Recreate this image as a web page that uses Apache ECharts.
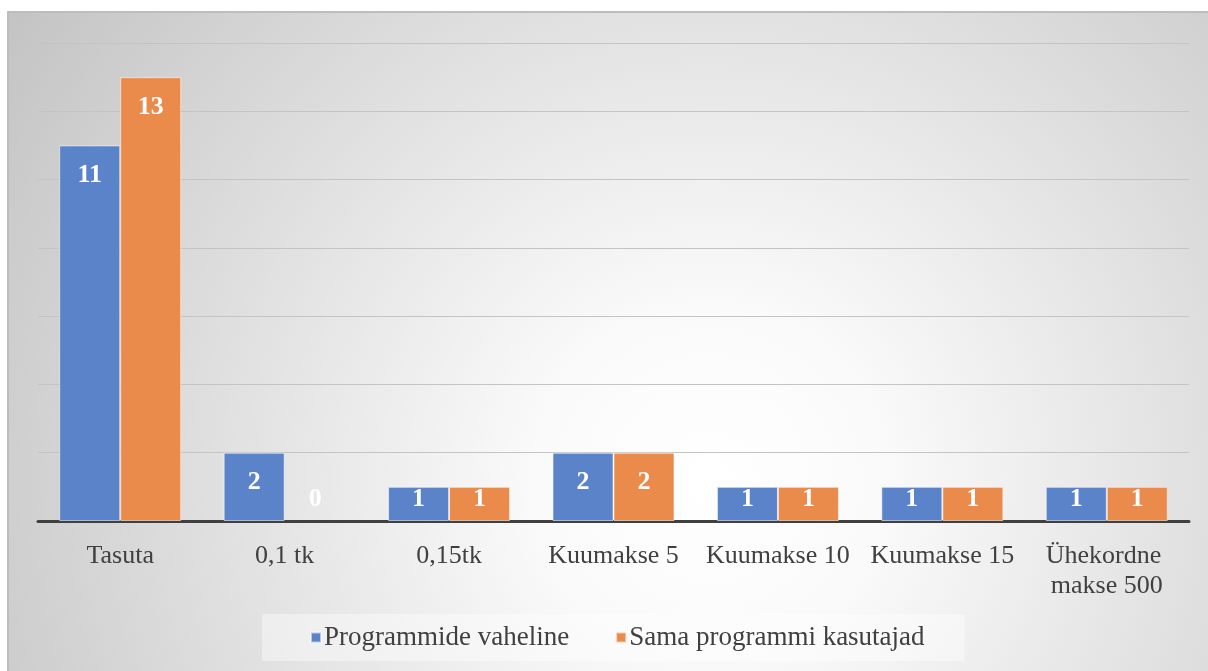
<!DOCTYPE html>
<html>
<head>
<meta charset="utf-8">
<script src="https://cdn.jsdelivr.net/npm/echarts@6/dist/echarts.min.js"></script>
<style>
html,body{margin:0;padding:0;background:#fff;}
#chart{width:1208px;height:671px;}
</style>
</head>
<body>
<div id="chart"></div>
<script>
const categories = ['Tasuta', '0,1 tk', '0,15tk', 'Kuumakse 5', 'Kuumakse 10', 'Kuumakse 15', 'Ühekordne makse 500'];
const seriesNames = ['Programmide vaheline', 'Sama programmi kasutajad'];
const programmideVaheline = [11, 2, 1, 2, 1, 1, 1];
const samaProgrammiKasutajad = [13, 0, 1, 2, 1, 1, 1];
const yTicks = [0, 2, 4, 6, 8, 10, 12, 14];

const FONT = '"Liberation Serif", "Times New Roman", serif';

function buildData(values) {
  return values.map(v => {
    const item = { value: v };
    if (v < 2) {
      item.label = { position: 'insideBottom', distance: 9 };
    }
    if (v === 0) {
      item.itemStyle = { borderWidth: 0 };
    }
    return item;
  });
}

const labelStyle = {
  show: true,
  position: 'insideTop',
  distance: 17,
  color: '#ffffff',
  fontFamily: FONT,
  fontWeight: 'bold',
  fontSize: 26
};

const chart = echarts.init(document.getElementById('chart'), null, { renderer: 'canvas' });
chart.setOption({
  animation: false,
  graphic: [{
    type: 'rect',
    z: -10,
    silent: true,
    shape: { x: 8, y: 12, width: 1210, height: 670 },
    style: {
      fill: new echarts.graphic.RadialGradient(0.58, 0.7, 1.28, [
        { offset: 0, color: '#ffffff' },
        { offset: 0.2, color: '#fafafa' },
        { offset: 1, color: '#c2c2c2' }
      ]),
      stroke: '#bdbdbd',
      lineWidth: 2
    }
  }],
  grid: { left: 38, right: 19, top: 43, bottom: 150, containLabel: false },
  legend: {
    data: seriesNames,
    left: 262,
    top: 614,
    padding: [10, 40, 10, 48],
    backgroundColor: 'rgba(255,255,255,0.4)',
    icon: 'rect',
    itemWidth: 10,
    itemHeight: 10,
    itemGap: 46,
    textStyle: { fontFamily: FONT, fontSize: 27, color: '#404040', padding: [0, 0, 0, -2] }
  },
  xAxis: {
    type: 'category',
    data: categories,
    axisLine: { lineStyle: { color: '#404040', width: 3 } },
    axisTick: { show: false },
    axisLabel: {
      interval: 0,
      margin: 20,
      fontFamily: FONT,
      fontSize: 26,
      color: '#404040',
      lineHeight: 30,
      width: 158,
      overflow: 'break'
    }
  },
  yAxis: {
    type: 'value',
    min: yTicks[0],
    max: yTicks[yTicks.length - 1],
    interval: 2,
    axisLabel: { show: false },
    axisLine: { show: false },
    axisTick: { show: false },
    splitLine: { lineStyle: { color: '#c4c4c4', width: 1 } }
  },
  series: [
    {
      name: seriesNames[0],
      type: 'bar',
      data: buildData(programmideVaheline),
      barWidth: 61,
      barGap: '0%',
      itemStyle: { color: '#5b83c9', borderColor: 'rgba(255,255,255,0.55)', borderWidth: 1 },
      label: labelStyle
    },
    {
      name: seriesNames[1],
      type: 'bar',
      data: buildData(samaProgrammiKasutajad),
      barWidth: 61,
      barGap: '0%',
      itemStyle: { color: '#eb8b4b', borderColor: 'rgba(255,255,255,0.55)', borderWidth: 1 },
      label: labelStyle
    }
  ]
});
</script>
</body>
</html>
